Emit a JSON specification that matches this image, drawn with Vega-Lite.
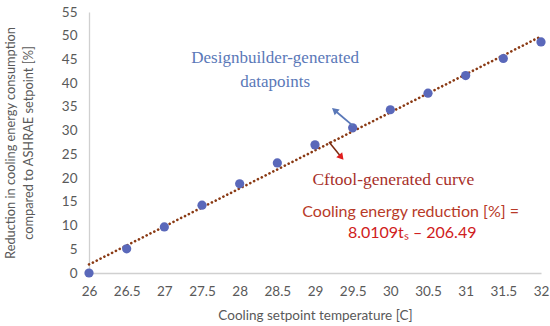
{
  "$schema": "https://vega.github.io/schema/vega-lite/v6.json",
  "width": 452,
  "height": 261,
  "autosize": {"type": "none"},
  "padding": {"left": 89, "top": 12, "right": 9, "bottom": 53},
  "background": "white",
  "config": {
    "view": {"stroke": null},
    "axis": {
      "grid": false,
      "ticks": false,
      "domainColor": "#D0D0D0",
      "domainWidth": 1.3,
      "labelColor": "#595959",
      "labelFont": "Lato",
      "labelFontSize": 13.5,
      "labelFlush": false,
      "labelOverlap": false,
      "titleColor": "#595959",
      "titleFont": "Lato",
      "titleFontSize": 13.5,
      "titleFontWeight": "normal"
    }
  },
  "encoding": {
    "x": {
      "field": "x", "type": "quantitative",
      "scale": {"domain": [26, 32], "nice": false, "zero": false},
      "axis": {"values": [26, 26.5, 27, 27.5, 28, 28.5, 29, 29.5, 30, 30.5, 31, 31.5, 32], "labelOverlap": false, "format": "~g", "labelPadding": 11, "title": "Cooling setpoint temperature [C]", "titlePadding": 11}
    },
    "y": {
      "field": "y", "type": "quantitative",
      "scale": {"domain": [0, 55], "nice": false},
      "axis": {"values": [0, 5, 10, 15, 20, 25, 30, 35, 40, 45, 50, 55], "labelOverlap": false, "labelPadding": 12, "title": ["Reduction in cooling energy consumption", "compared to ASHRAE setpoint [%]"], "titleFontSize": 12.8, "titleLineHeight": 18, "titlePadding": 26}
    }
  },
  "layer": [
    {
      "data": {"values": [{"x": 26, "y": 1.79}, {"x": 32, "y": 49.86}]},
      "mark": {"type": "line", "color": "#8A3A14", "strokeWidth": 2.6, "strokeDash": [0.1, 4.2], "strokeCap": "round", "clip": false}
    },
    {
      "data": {"values": [
        {"x": 26, "y": 0}, {"x": 26.5, "y": 5.1}, {"x": 27, "y": 9.7}, {"x": 27.5, "y": 14.3},
        {"x": 28, "y": 18.8}, {"x": 28.5, "y": 23.2}, {"x": 29, "y": 27.0}, {"x": 29.5, "y": 30.6},
        {"x": 30, "y": 34.4}, {"x": 30.5, "y": 37.9}, {"x": 31, "y": 41.6}, {"x": 31.5, "y": 45.2}, {"x": 32, "y": 48.7}
      ]},
      "mark": {"type": "point", "filled": true, "shape": "circle", "size": 85, "color": "#5A68BA", "opacity": 1, "clip": false}
    },
    {
      "data": {"values": [{"x": 29.505, "y": 31.0, "x2": 29.26, "y2": 34.3}]},
      "mark": {"type": "rule", "color": "#5A78B8", "strokeWidth": 1.8},
      "encoding": {
        "x2": {"field": "x2"},
        "y2": {"field": "y2"}
      }
    },
    {
      "data": {"values": [{"x": 29.26, "y": 34.3}]},
      "mark": {"type": "point", "shape": "triangle-up", "filled": true, "size": 60, "angle": 310, "color": "#5A78B8", "opacity": 1}
    },
    {
      "data": {"values": [{"x": 29.186, "y": 27.6, "x2": 29.35, "y2": 24.4}]},
      "mark": {"type": "rule", "color": "#7A2A10", "strokeWidth": 1.5},
      "encoding": {
        "x2": {"field": "x2"},
        "y2": {"field": "y2"}
      }
    },
    {
      "data": {"values": [{"x": 29.35, "y": 24.4}]},
      "mark": {"type": "point", "shape": "triangle-up", "filled": true, "size": 60, "angle": 140, "color": "#E01E1E", "opacity": 1}
    },
    {
      "data": {"values": [{"x": 28.47, "y": 45.3, "label": "Designbuilder-generated"}, {"x": 28.47, "y": 40.2, "label": "datapoints"}]},
      "mark": {"type": "text", "font": "Liberation Serif", "fontSize": 17, "color": "#5A78B8", "align": "center", "baseline": "middle"},
      "encoding": {"text": {"field": "label"}}
    },
    {
      "data": {"values": [{"x": 30.04, "y": 19.6, "label": "Cftool-generated curve"}]},
      "mark": {"type": "text", "font": "Liberation Serif", "fontSize": 17.5, "color": "#A8302A", "align": "center", "baseline": "middle"},
      "encoding": {"text": {"field": "label"}}
    },
    {
      "data": {"values": [{"x": 30.27, "y": 12.86, "label": "Cooling energy reduction [%] ="}]},
      "mark": {"type": "text", "font": "Lato", "fontSize": 16, "color": "#B83A28", "align": "center", "baseline": "middle"},
      "encoding": {"text": {"field": "label"}}
    },
    {
      "data": {"values": [{"x": 30.29, "y": 8.43, "label": "8.0109tₛ – 206.49"}]},
      "mark": {"type": "text", "font": "Lato", "fontSize": 16, "color": "#D02020", "align": "center", "baseline": "middle"},
      "encoding": {"text": {"field": "label"}}
    }
  ]
}
